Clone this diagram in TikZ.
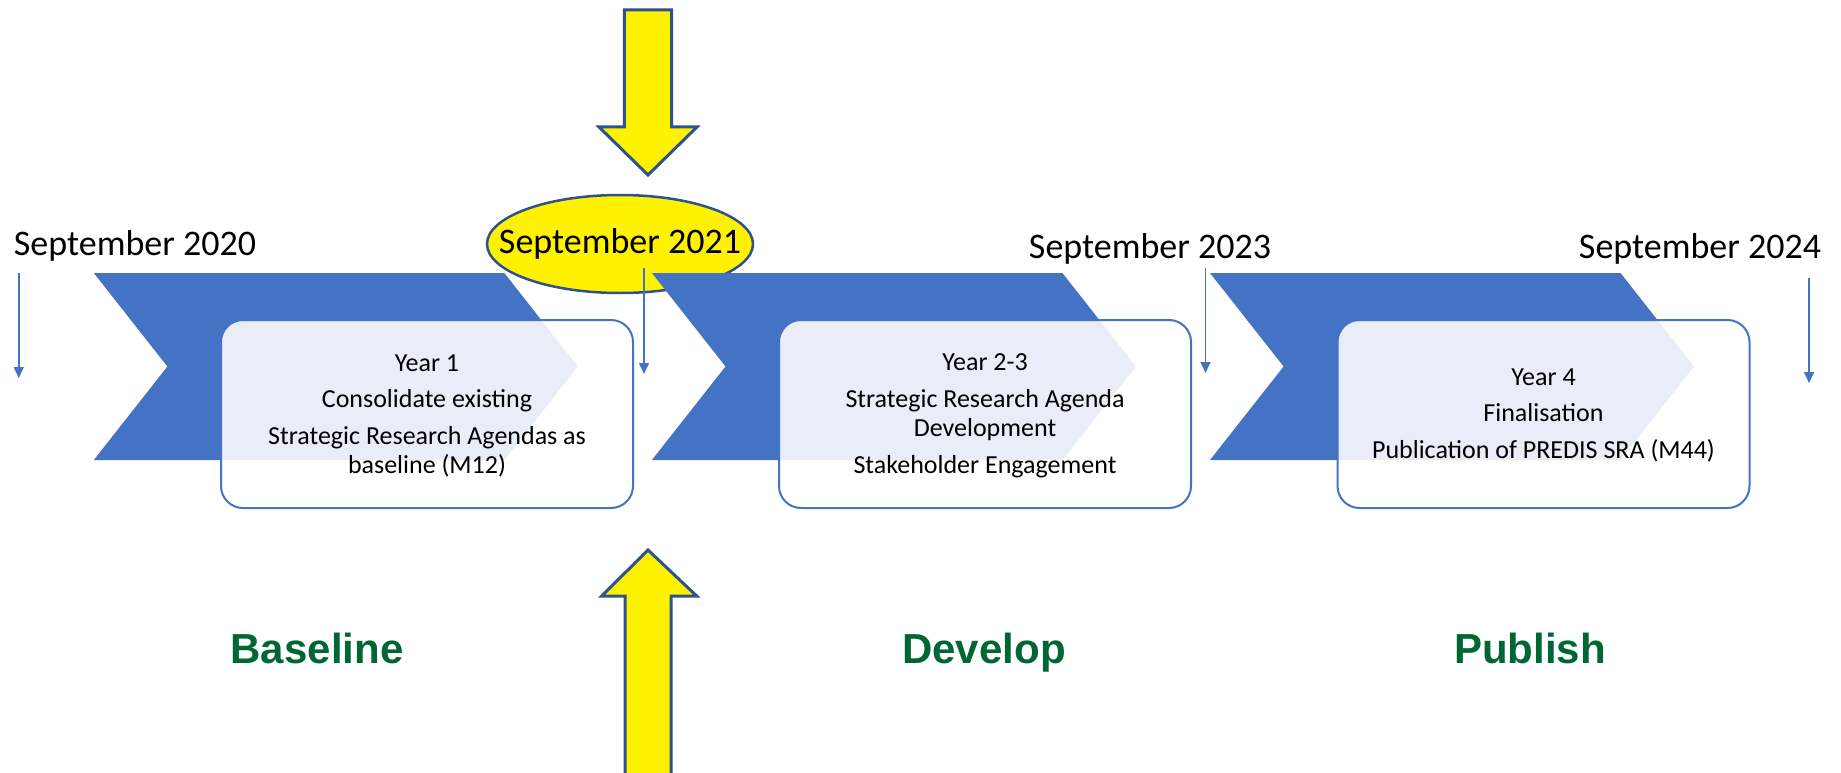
\documentclass[tikz,border=0pt]{standalone}
\usepackage{fontspec}
\setmainfont{Carlito}
\newfontfamily\labelfont{Liberation Sans}
\usetikzlibrary{arrows.meta,shapes.geometric}
\definecolor{chev}{HTML}{4472C4}
\definecolor{outl}{HTML}{2F528F}
\definecolor{grn}{RGB}{0,102,51}
\begin{document}
\begin{tikzpicture}[x=1pt,y=-1pt,
  chevron/.style={fill=chev, draw=none},
  taskbox/.style={draw=chev, line width=2pt, fill=white, fill opacity=0.88,
    rounded corners=22pt, minimum width=412pt, minimum height=188pt, inner sep=0pt},
  boxtext/.style={align=center, inner sep=0pt, font=\fontsize{26}{29.5}\selectfont},
  datelabel/.style={anchor=base, font=\fontsize{36}{43}\selectfont},
  phase/.style={anchor=base, text=grn, font=\labelfont\bfseries\fontsize{42}{48}\selectfont},
  tick/.style={draw=chev, line width=1.5pt, -{Triangle[width=10pt,length=11pt]}},
  bigarrow/.style={fill=yellow, draw=outl, line width=3pt, line join=miter}]
\useasboundingbox (0,0) rectangle (1841,773);
\clip (0,0) rectangle (1841,773);

% big yellow arrows
\draw[bigarrow] (624.3,10) -- (671.7,10) -- (671.7,127) -- (697,127) -- (648,175)
  -- (599,127) -- (624.3,127) -- cycle;
\draw[bigarrow] (625,790) -- (625,596) -- (601.7,596) -- (648,550) -- (696.7,596)
  -- (671,596) -- (671,790) -- cycle;

% highlighted date
\node[ellipse, draw=outl, fill=yellow, line width=2.5pt, minimum width=266pt,
  minimum height=98pt, inner sep=0pt] (e21) at (620,244) {};
\node[datelabel] (d21) at (620,253) {September 2021};

% chevrons
\foreach \X in {93.8,651.9,1210}{
  \fill[chevron] (\X,273) -- (\X+410.5,273) -- (\X+484,366.5) -- (\X+410.5,460)
    -- (\X,460) -- (\X+73.6,366.5) -- cycle;
}

% task boxes
\node[taskbox] (b1) at (427,414) {};
\node[taskbox] (b2) at (985,414) {};
\node[taskbox] (b3) at (1543.5,414) {};
\node[boxtext] (b1t) at (427,416) {Year 1\\[7pt]Consolidate existing\\[7pt]Strategic Research Agendas as\\baseline (M12)};
\node[boxtext] (b2t) at (985,416) {Year 2-3\\[7pt]Strategic Research Agenda\\Development\\[7pt]Stakeholder Engagement};
\node[boxtext] (b3t) at (1543.5,415) {Year 4\\[7pt]Finalisation\\[7pt]Publication of PREDIS SRA (M44)};

% date labels
\node[datelabel] (d20) at (135,255) {September 2020};
\node[datelabel] (d23) at (1150,258) {September 2023};
\node[datelabel] (d24) at (1700,258) {September 2024};

% tick arrows
\coordinate (t1s) at (18.75,273); \coordinate (t1e) at (18.75,378);
\coordinate (t2s) at (644,268);   \coordinate (t2e) at (644,374);
\coordinate (t3s) at (1205.5,268);\coordinate (t3e) at (1205.5,373);
\coordinate (t4s) at (1809,278);  \coordinate (t4e) at (1809,383);
\draw[tick] (t1s) -- (t1e);
\draw[tick] (t2s) -- (t2e);
\draw[tick] (t3s) -- (t3e);
\draw[tick] (t4s) -- (t4e);

% phase labels
\node[phase] (p1) at (317,663) {Baseline};
\node[phase] (p2) at (984,663) {Develop};
\node[phase] (p3) at (1530,663) {Publish};
\end{tikzpicture}
\end{document}
